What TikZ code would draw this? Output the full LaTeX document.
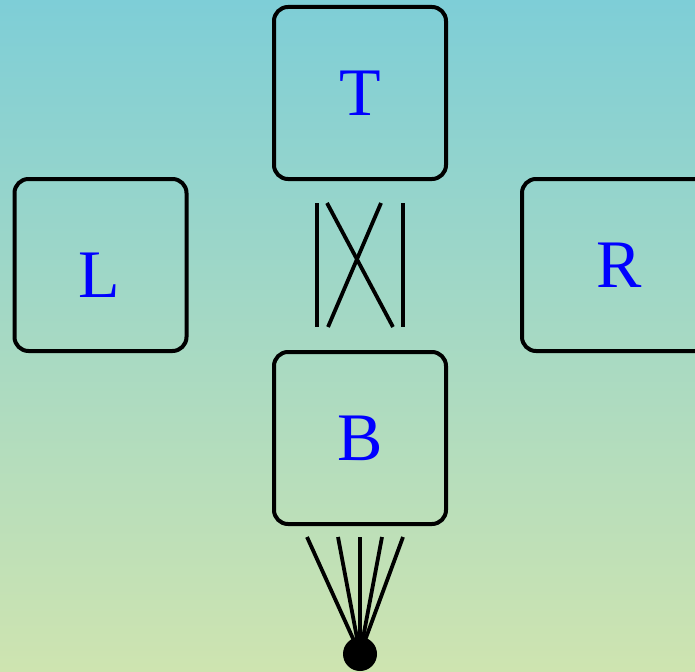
\documentclass[tikz,border=0pt]{standalone}
\usepackage{fontspec}
\setmainfont{Liberation Serif}
\usetikzlibrary{calc}
\definecolor{bgtop}{RGB}{126,206,215}
\definecolor{bgbot}{RGB}{206,228,176}
\definecolor{lbl}{RGB}{0,0,255}
\tikzset{
  box/.style={draw=black, line width=4pt, rounded corners=14pt, minimum width=172pt, minimum height=172pt, inner sep=0pt, text=lbl, font=\fontsize{68}{68}\selectfont},
  lbltext/.style={text=lbl, inner sep=0pt, font=\fontsize{68}{68}\selectfont},
  wire/.style={draw=black, line width=3.8pt},
  dotnode/.style={circle, fill=black, minimum size=34pt, inner sep=0pt}
}
\begin{document}
\begin{tikzpicture}[x=1pt,y=-1pt]
\useasboundingbox (0,0) rectangle (695,671);
\clip (0,0) rectangle (695,671);
\shade[top color=bgtop, bottom color=bgbot] (0,0) rectangle (695,671);
\node[box] (T) at (360,93) {T};
\node[box] (L) at (100.5,265) {};
\node[lbltext] (Ltext) at (99,275.5) {L};
\node[box, minimum width=194pt] (R) at (619,265) {R};
\node[box] (B) at (360,438) {B};
\node[dotnode] (D) at (360,654) {};
% connectors between T and B
\coordinate (a1) at ($(T.south)+(-43,22)$);
\coordinate (a2) at ($(B.north)+(-43,-23)$);
\coordinate (b1) at ($(T.south)+(43,22)$);
\coordinate (b2) at ($(B.north)+(43,-23)$);
\coordinate (c1) at ($(T.south)+(-33,22)$);
\coordinate (c2) at ($(B.north)+(33,-23)$);
\coordinate (d1) at ($(T.south)+(21,22)$);
\coordinate (d2) at ($(B.north)+(-32,-23)$);
\draw[wire] (a1) -- (a2);
\draw[wire] (b1) -- (b2);
\draw[wire] (c1) -- (c2);
\draw[wire] (d1) -- (d2);
% fan from B to dot
\coordinate (f1) at ($(B.south)+(-53,11)$);
\coordinate (f2) at ($(B.south)+(-22,11)$);
\coordinate (f3) at ($(B.south)+(0,11)$);
\coordinate (f4) at ($(B.south)+(22,11)$);
\coordinate (f5) at ($(B.south)+(43,11)$);
\foreach \f in {f1,f2,f3,f4,f5} { \draw[wire] (\f) -- (D.center); }
\end{tikzpicture}
\end{document}
